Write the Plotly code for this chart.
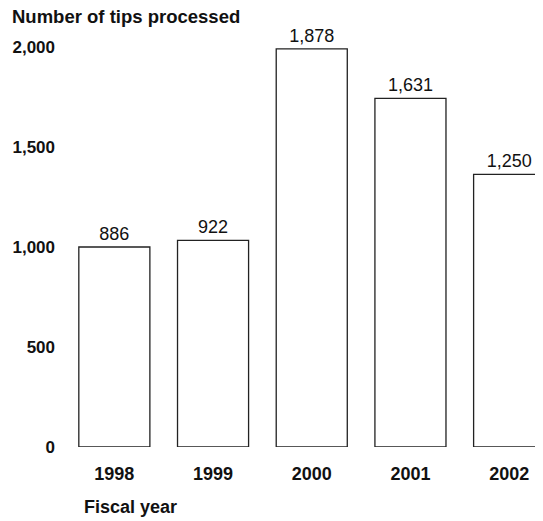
import plotly.graph_objects as go

years = ["1998", "1999", "2000", "2001", "2002"]
bar_heights = [1000, 1033, 1991, 1743, 1363]
value_labels = ["886", "922", "1,878", "1,631", "1,250"]
y_ticks = [0, 500, 1000, 1500, 2000]
y_tick_text = ["0", "500", "1,000", "1,500", "2,000"]

FONT = "Liberation Sans, Arial, Helvetica, sans-serif"

# page has an 8px body margin; figure is sized to the visible area
W, H = 535, 513
L, T, B = 57, 39, 74
PW, PH = W - L, H - T - B

fig = go.Figure()
fig.add_trace(go.Bar(
    x=years, y=bar_heights,
    text=value_labels, textposition="outside",
    textfont=dict(family=FONT, size=18, color="#111"),
    marker=dict(color="white", line=dict(color="#222", width=1.3)),
    cliponaxis=False, width=0.72,
))

fig.update_layout(
    width=W, height=H,
    margin=dict(l=L, r=0, t=T, b=B),
    paper_bgcolor="white", plot_bgcolor="white",
    showlegend=False,
    font=dict(family=FONT, color="#111"),
    xaxis=dict(range=[-0.5, 4.343], showline=False, showgrid=False, zeroline=False,
               ticks="", ticklabelstandoff=14,
               tickfont=dict(family=FONT, size=18, color="#111", weight="bold")),
    yaxis=dict(range=[0, 2000], tickvals=y_ticks, ticktext=y_tick_text,
               showline=False, showgrid=False, zeroline=False, ticks="",
               ticklabelstandoff=9,
               tickfont=dict(family=FONT, size=17, color="#111", weight="bold")),
    annotations=[
        dict(text="<b>Number of tips processed</b>", xref="paper", yref="paper",
             x=(2 - L) / PW, y=1 + (T - 8) / PH, xanchor="left", yanchor="middle",
             showarrow=False, font=dict(family=FONT, size=18.5, color="#111")),
        dict(text="<b>Fiscal year</b>", xref="paper", yref="paper",
             x=(74 - L) / PW, y=-(499 - (H - B)) / PH, xanchor="left", yanchor="middle",
             showarrow=False, font=dict(family=FONT, size=18, color="#111")),
    ],
)

fig.write_html("out.html")
